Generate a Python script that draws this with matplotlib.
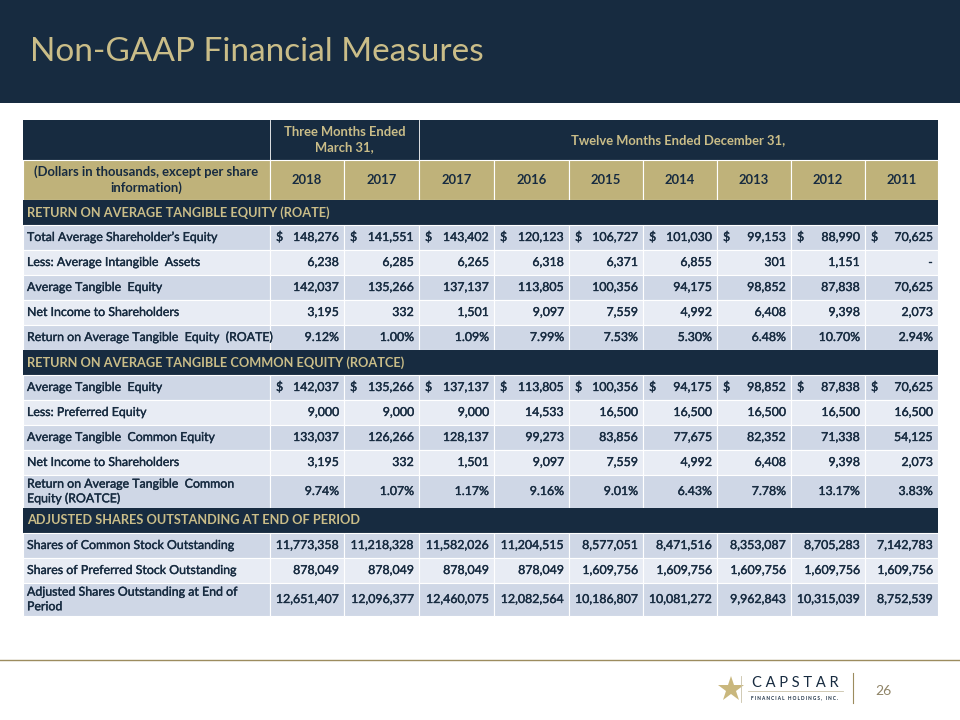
import matplotlib.pyplot as plt
import matplotlib.patheffects as pe
from matplotlib.patches import Rectangle

# colours picked off the slide
NAVY = "#172b40"
GOLD = "#bfb27a"
GOLD_TXT = "#cabd88"
ROW_DARK = "#cfd7e6"
ROW_LIGHT = "#e8ecf4"

plt.rcParams["font.family"] = ["Lato", "DejaVu Sans"]

title = "Non-GAAP Financial Measures"
page_no = "26"

years = ["2018", "2017", "2017", "2016", "2015", "2014", "2013", "2012", "2011"]
group_heads = ["Three Months Ended\nMarch 31,", "Twelve Months Ended December 31,"]
corner_label = "(Dollars in thousands, except per share\ninformation)"

sections = [
    "RETURN ON AVERAGE TANGIBLE EQUITY (ROATE)",
    "RETURN ON AVERAGE TANGIBLE COMMON EQUITY (ROATCE)",
    "ADJUSTED SHARES OUTSTANDING AT END OF PERIOD",
]

# section 1
roate_labels = [
    "Total Average Shareholder\u2019s Equity",
    "Less: Average Intangible  Assets",
    "Average Tangible  Equity",
    "Net Income to Shareholders",
    "Return on Average Tangible  Equity  (ROATE)",
]
total_equity = ["148,276", "141,551", "143,402", "120,123", "106,727", "101,030", "99,153", "88,990", "70,625"]
intangibles = ["6,238", "6,285", "6,265", "6,318", "6,371", "6,855", "301", "1,151", "-"]
tangible_equity = ["142,037", "135,266", "137,137", "113,805", "100,356", "94,175", "98,852", "87,838", "70,625"]
net_income = ["3,195", "332", "1,501", "9,097", "7,559", "4,992", "6,408", "9,398", "2,073"]
roate = ["9.12%", "1.00%", "1.09%", "7.99%", "7.53%", "5.30%", "6.48%", "10.70%", "2.94%"]

# section 2
roatce_labels = [
    "Average Tangible  Equity",
    "Less: Preferred Equity",
    "Average Tangible  Common Equity",
    "Net Income to Shareholders",
    "Return on Average Tangible  Common\nEquity (ROATCE)",
]
preferred_equity = ["9,000", "9,000", "9,000", "14,533", "16,500", "16,500", "16,500", "16,500", "16,500"]
tangible_common = ["133,037", "126,266", "128,137", "99,273", "83,856", "77,675", "82,352", "71,338", "54,125"]
roatce = ["9.74%", "1.07%", "1.17%", "9.16%", "9.01%", "6.43%", "7.78%", "13.17%", "3.83%"]

# section 3
shares_labels = [
    "Shares of Common Stock Outstanding",
    "Shares of Preferred Stock Outstanding",
    "Adjusted Shares Outstanding at End of\nPeriod",
]
common_shares = ["11,773,358", "11,218,328", "11,582,026", "11,204,515", "8,577,051",
                 "8,471,516", "8,353,087", "8,705,283", "7,142,783"]
preferred_shares = ["878,049", "878,049", "878,049", "878,049", "1,609,756",
                    "1,609,756", "1,609,756", "1,609,756", "1,609,756"]
adjusted_shares = ["12,651,407", "12,096,377", "12,460,075", "12,082,564", "10,186,807",
                   "10,081,272", "9,962,843", "10,315,039", "8,752,539"]

blocks = [
    (sections[0], roate_labels, [total_equity, intangibles, tangible_equity, net_income, roate]),
    (sections[1], roatce_labels, [tangible_equity, preferred_equity, tangible_common, net_income, roatce]),
    (sections[2], shares_labels, [common_shares, preferred_shares, adjusted_shares]),
]
dollar_rows = {(0, 0), (1, 0)}

BODY = 8.9
HEAD = 9.4
# thin stroke so the regular weight reads like the slide's heavier body text
heavy = [pe.withStroke(linewidth=0.25, foreground=NAVY)]

fig = plt.figure(figsize=(9.6, 7.2), dpi=100)
ax = fig.add_axes([0, 0, 1, 1])
ax.set_xlim(0, 960)
ax.set_ylim(720, 0)
ax.axis("off")

# title bar
ax.add_patch(Rectangle((0, 0), 960, 103, color=NAVY, lw=0))
ax.text(30, 52, title, color=GOLD_TXT, fontsize=24, va="center", ha="left")

# column edges
xs = [23, 270, 344, 419, 494, 569, 643, 717, 791, 865, 938]
left, right = xs[0], xs[-1]


def cell(x0, y0, w, h, fc):
    ax.add_patch(Rectangle((x0, y0), w, h, facecolor=fc, edgecolor="white", lw=0.8))


# header rows
y = 120
h = 40
ax.add_patch(Rectangle((left, y), right - left, h, color=NAVY, lw=0))
ax.plot([xs[1], xs[1]], [y, y + h], color="white", lw=0.6)
ax.plot([xs[3], xs[3]], [y, y + h], color="white", lw=0.6)
ax.text((xs[1] + xs[3]) / 2, y + h / 2, group_heads[0], color=GOLD_TXT, fontsize=HEAD,
        fontweight="bold", ha="center", va="center", linespacing=1.3)
ax.text((xs[3] + xs[-1]) / 2, y + h / 2, group_heads[1], color=GOLD_TXT, fontsize=HEAD,
        fontweight="bold", ha="center", va="center")
y += h
for i in range(len(xs) - 1):
    cell(xs[i], y, xs[i + 1] - xs[i], h, GOLD)
ax.text((xs[0] + xs[1]) / 2, y + h / 2, corner_label, color=NAVY, fontsize=HEAD,
        fontweight="bold", ha="center", va="center", linespacing=1.3)
for i, yr in enumerate(years):
    ax.text((xs[i + 1] + xs[i + 2]) / 2, y + h / 2, yr, color=NAVY, fontsize=HEAD,
            fontweight="bold", ha="center", va="center")
y += h

# body
for b, (sec, labels, rows) in enumerate(blocks):
    sh = 25
    ax.add_patch(Rectangle((left, y), right - left, sh, color=NAVY, lw=0))
    ax.text(27, y + sh / 2, sec, color=GOLD_TXT, fontsize=9.2, fontweight="bold",
            ha="left", va="center")
    y += sh
    for r, (lab, vals) in enumerate(zip(labels, rows)):
        rh = 33 if "\n" in lab else 25
        fc = ROW_DARK if r % 2 == 0 else ROW_LIGHT
        for i in range(len(xs) - 1):
            cell(xs[i], y, xs[i + 1] - xs[i], rh, fc)
        ax.text(27, y + rh / 2, lab, color=NAVY, fontsize=BODY, ha="left", va="center",
                linespacing=1.4, path_effects=heavy)
        for i, v in enumerate(vals):
            ax.text(xs[i + 2] - 5, y + rh / 2, v, color=NAVY, fontsize=BODY, ha="right",
                    va="center", path_effects=heavy)
            if (b, r) in dollar_rows:
                ax.text(xs[i + 1] + 6, y + rh / 2, "$", color=NAVY, fontsize=BODY,
                        ha="left", va="center", path_effects=heavy)
        y += rh

# footer
ax.plot([0, 960], [660, 660], color="#9c8c5e", lw=1.0)
ax.plot([731], [689], marker="*", markersize=19, color="#c9b77d", markeredgewidth=0)
ax.plot([741, 741], [676, 702], color="#c9c2a8", lw=0.6)
ax.text(795, 683, "C A P S T A R", color=NAVY, fontsize=10.5, ha="center", va="center")
ax.plot([748, 843], [691, 691], color="#c9c2a8", lw=0.6)
ax.text(795, 698, "F I N A N C I A L   H O L D I N G S ,   I N C .", color=NAVY, fontsize=3.4,
        fontweight="bold", ha="center", va="center")
ax.plot([853, 853], [673, 703], color="#9c8c5e", lw=0.8)
ax.text(883, 691, page_no, color="#8f8467", fontsize=10, ha="center", va="center")

fig.savefig("out.png", dpi=100)
